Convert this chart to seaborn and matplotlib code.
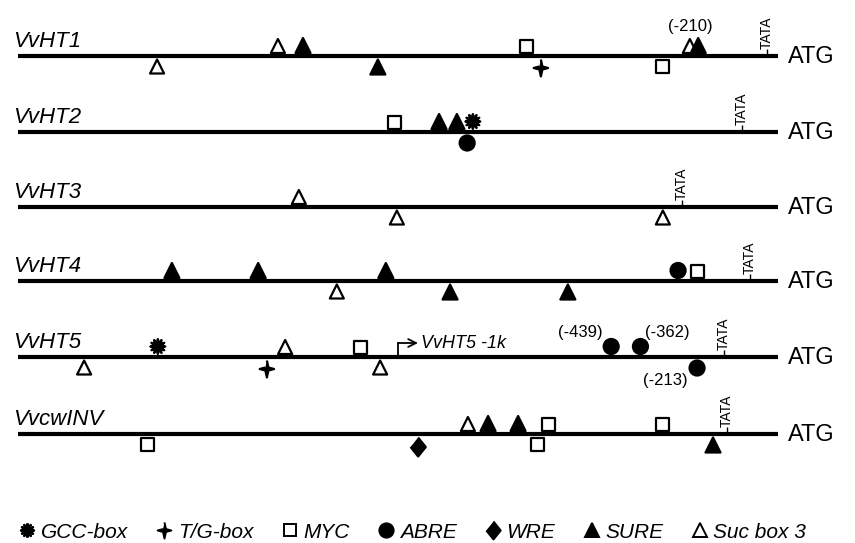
import numpy as np
import pandas as pd
import matplotlib
matplotlib.use('Agg')
import matplotlib.pyplot as plt
from matplotlib.lines import Line2D
import seaborn as sns

# promoter maps, positions in bp upstream of ATG
genes = ['VvHT1', 'VvHT2', 'VvHT3', 'VvHT4', 'VvHT5', 'VvcwINV']
tata_pos = [-29, -95, -253, -74, -142, -134]

site_gene = (['VvHT1'] * 9 + ['VvHT2'] * 5 + ['VvHT3'] * 3 + ['VvHT4'] * 8
             + ['VvHT5'] * 9 + ['VvcwINV'] * 9)
site_element = [
    # VvHT1
    'Suc box 3', 'Suc box 3', 'SURE', 'SURE', 'MYC', 'T/G-box', 'MYC', 'Suc box 3', 'SURE',
    # VvHT2
    'MYC', 'SURE', 'SURE', 'GCC-box', 'ABRE',
    # VvHT3
    'Suc box 3', 'Suc box 3', 'Suc box 3',
    # VvHT4
    'SURE', 'SURE', 'SURE', 'Suc box 3', 'SURE', 'SURE', 'ABRE', 'MYC',
    # VvHT5
    'Suc box 3', 'GCC-box', 'T/G-box', 'Suc box 3', 'MYC', 'Suc box 3', 'ABRE', 'ABRE', 'ABRE',
    # VvcwINV
    'MYC', 'WRE', 'Suc box 3', 'SURE', 'SURE', 'MYC', 'MYC', 'MYC', 'SURE',
]
site_pos = [
    -1634, -1316, -1250, -1053, -663, -624, -303, -232, -210,
    -1008, -892, -845, -803, -818,
    -1261, -1003, -303,
    -1595, -1368, -1032, -1161, -863, -553, -263, -211,
    -1826, -1632, -1345, -1297, -1100, -1047, -439, -362, -213,
    -1658, -947, -816, -763, -684, -605, -632, -303, -171,
]
site_side = [
    'down', 'up', 'up', 'down', 'up', 'down', 'down', 'up', 'up',
    'up', 'up', 'up', 'up', 'down',
    'up', 'down', 'down',
    'up', 'up', 'up', 'down', 'down', 'down', 'up', 'up',
    'down', 'up', 'down', 'up', 'up', 'down', 'up', 'up', 'down',
    'down', 'down', 'up', 'up', 'up', 'up', 'down', 'up', 'down',
]

ann_gene = ['VvHT1', 'VvHT5', 'VvHT5', 'VvHT5']
ann_pos = [-210, -439, -362, -213]
ann_text = ['(-210)', '(-439)', '(-362)', '(-213)']

legend_order = ['GCC-box', 'T/G-box', 'MYC', 'ABRE', 'WRE', 'SURE', 'Suc box 3']

# ---- styles ----
star4 = [(0, 1), (0.18, 0.18), (0.85, 0), (0.18, -0.18),
         (0, -1), (-0.18, -0.18), (-0.85, 0), (-0.18, 0.18)]
diamond = [(0, 1), (0.8, 0), (0, -1), (-0.8, 0)]
MARKERS = {'GCC-box': (12, 1, 0), 'T/G-box': star4, 'MYC': 's', 'ABRE': 'o',
           'WRE': diamond, 'SURE': '^', 'Suc box 3': '^'}
FILL = {'GCC-box': 'black', 'T/G-box': 'black', 'MYC': 'white', 'ABRE': 'black',
        'WRE': 'black', 'SURE': 'black', 'Suc box 3': 'white'}
MARKER_PX = {'GCC-box': 15, 'T/G-box': 17, 'MYC': 13, 'ABRE': 15,
             'WRE': 19, 'SURE': 15, 'Suc box 3': 14}

sns.set_theme(style='white')
plt.rcParams['font.family'] = ['Liberation Sans', 'DejaVu Sans']
plt.rcParams['text.color'] = 'black'

fig = plt.figure(figsize=(8.55, 5.43), dpi=100)
ax = fig.add_axes([0, 0, 1, 1])
px = 1 / 0.38  # bp per pixel
ax.set_xlim(-778 * px, 77 * px)
ax.set_ylim(543, 0)
ax.axis('off')

row_y = dict(zip(genes, [56, 132, 207, 281, 357, 434]))

df = pd.DataFrame({'gene': site_gene, 'element': site_element,
                   'pos': site_pos, 'side': site_side})
df['row'] = df['gene'].map(row_y)
half = df['element'].map(MARKER_PX) / 2
df['y'] = np.where(df['side'] == 'up', df['row'] - half - 3, df['row'] + half + 3.5)

sns.scatterplot(data=df, x='pos', y='y', hue='element', style='element', size='element',
                hue_order=legend_order, style_order=legend_order, size_order=legend_order,
                palette=FILL, markers=MARKERS,
                sizes={k: (v * 0.72) ** 2 for k, v in MARKER_PX.items()},
                edgecolor='black', linewidth=1.6, legend=False, ax=ax, zorder=3)

for g, tp in zip(genes, tata_pos):
    r = row_y[g]
    ax.hlines(r, -2000, 0, color='black', lw=3, zorder=2)
    ax.text(-2013, r - 9, g, style='italic', fontsize=16, ha='left', va='baseline')
    ax.text(26, r + 1, 'ATG', fontsize=17, ha='left', va='center')
    ax.vlines(tp, r - 7, r, color='black', lw=1)
    ax.text(tp, r - 7, 'TATA', rotation=90, fontsize=10, ha='center', va='bottom')

# numbered ABRE / SURE labels
ann_layout = [('center', -8, -29), ('right', -9, -25), ('left', 5, -25), ('right', -9, 23)]
for g, p, t, (ha, dx, dy) in zip(ann_gene, ann_pos, ann_text, ann_layout):
    ax.text(p + dx * px, row_y[g] + dy, t, fontsize=12, ha=ha, va='center')

# -1k start arrow on VvHT5
r5 = row_y['VvHT5']
ax.plot([-1000, -1000], [r5 - 2, r5 - 14], color='black', lw=1.3)
ax.annotate('', xy=(-1000 + 20 * px, r5 - 14), xytext=(-1000, r5 - 14),
            arrowprops=dict(arrowstyle='->', lw=1.3, color='black',
                            shrinkA=0, shrinkB=0, mutation_scale=14))
ax.text(-1000 + 23 * px, r5 - 14, 'VvHT5 -1k', style='italic', fontsize=13,
        ha='left', va='center')

handles = [Line2D([], [], marker=MARKERS[e], linestyle='',
                  markersize=MARKER_PX[e] * 0.72 * 0.95, markerfacecolor=FILL[e],
                  markeredgecolor='black', markeredgewidth=1.4) for e in legend_order]
ax.legend(handles, legend_order, ncol=7, loc='center left', bbox_to_anchor=(0.022, 0.02),
          frameon=False, prop=dict(style='italic', size=15), handlelength=0.8,
          handletextpad=0.25, columnspacing=1.35, borderpad=0, borderaxespad=0)

fig.savefig('out.png', dpi=100)
